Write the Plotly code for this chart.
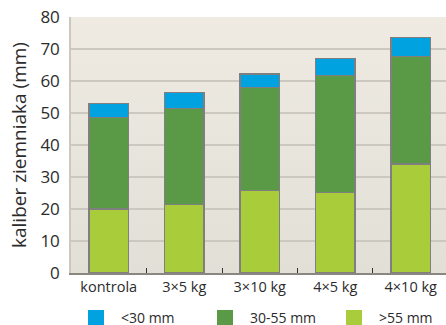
import base64
import plotly.graph_objects as go

categories = ["kontrola", "3×5 kg", "3×10 kg", "4×5 kg", "4×10 kg"]
series_names = ["<30 mm", "30-55 mm", ">55 mm"]
small = [4.3, 4.8, 4.3, 5.3, 5.8]        # <30 mm
medium = [28.7, 30.0, 32.1, 36.6, 33.6]  # 30-55 mm
large = [20.0, 21.5, 25.8, 25.1, 34.1]   # >55 mm
y_ticks = [0, 10, 20, 30, 40, 50, 60, 70, 80]
y_title = "kaliber ziemniaka (mm)"

colors = {"<30 mm": "#00a3e0", "30-55 mm": "#5a9a46", ">55 mm": "#a9cd3a"}
FONT = "Open Sans"
TXT = "#2b2b2b"

fig = go.Figure()
for name, vals in [(">55 mm", large), ("30-55 mm", medium), ("<30 mm", small)]:
    fig.add_trace(go.Bar(
        x=categories, y=vals, name=name, showlegend=False,
        marker=dict(color=colors[name], line=dict(color="#7f7f7f", width=1.3)),
    ))
legend_ids = ["legend", "legend2", "legend3"]
for name, lid in zip(series_names, legend_ids):
    fig.add_trace(go.Scatter(
        x=[None], y=[None], mode="markers", name=name, legend=lid,
        marker=dict(symbol="square", size=20, color=colors[name]),
    ))

svg = ('<svg xmlns="http://www.w3.org/2000/svg" width="10" height="100" preserveAspectRatio="none">'
       '<defs><linearGradient id="g" x1="0" y1="0" x2="0" y2="1">'
       '<stop offset="0" stop-color="#efebe3"/><stop offset="1" stop-color="#e2dfd7"/>'
       '</linearGradient></defs><rect width="10" height="100" fill="url(#g)"/></svg>')
src = "data:image/svg+xml;base64," + base64.b64encode(svg.encode()).decode()

legend_x = [71, 200, 329]


def legend_cfg(px):
    return dict(orientation="h", xref="container", yref="container",
                x=px / 446, y=0.0695, xanchor="left", yanchor="top",
                itemwidth=40, font=dict(size=14, color=TXT),
                bgcolor="rgba(0,0,0,0)")


fig.update_layout(
    width=446, height=325,
    margin=dict(l=71, r=0, t=17, b=52),
    barmode="stack", bargap=0.48,
    paper_bgcolor="white", plot_bgcolor="rgba(0,0,0,0)",
    font=dict(family=FONT, color=TXT),
    images=[dict(source=src, xref="paper", yref="paper", x=0, y=1, sizex=1, sizey=1,
                 sizing="stretch", layer="below", xanchor="left", yanchor="top")],
    legend=legend_cfg(legend_x[0]),
    legend2=legend_cfg(legend_x[1]),
    legend3=legend_cfg(legend_x[2]),
    xaxis=dict(range=[-0.5, 4.467], tickfont=dict(size=14.5, color=TXT),
               ticks="inside", tickson="boundaries", ticklen=5, tickcolor="#333",
               showline=True, linecolor="#8a8780", linewidth=1.5, showgrid=False,
               fixedrange=True),
    yaxis=dict(range=[0, 80], tickvals=y_ticks, tickfont=dict(size=17, color=TXT),
               showgrid=True, gridcolor="#ccc8c0", gridwidth=1.5,
               showline=True, linecolor="#ccc8c0", linewidth=1.5,
               ticks="", ticklabelstandoff=6, zeroline=False,
               title=dict(text=y_title, font=dict(size=19, color=TXT), standoff=9),
               fixedrange=True),
)
fig.write_html("out.html")
